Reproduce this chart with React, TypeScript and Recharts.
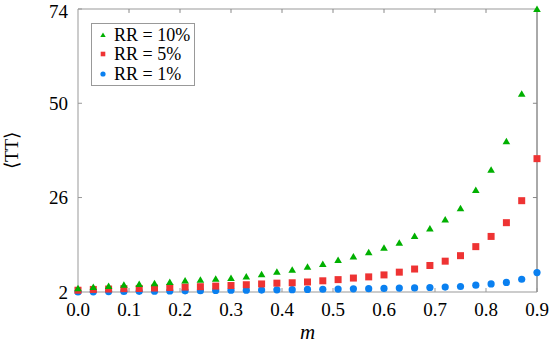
import { ScatterChart, Scatter, XAxis, YAxis, Legend, ReferenceLine } from "recharts";

const M = [
  0, 0.03, 0.06, 0.09, 0.12, 0.15, 0.18, 0.21, 0.24, 0.27, 0.3, 0.33, 0.36, 0.39, 0.42, 0.45,
  0.48, 0.51, 0.54, 0.57, 0.6, 0.63, 0.66, 0.69, 0.72, 0.75, 0.78, 0.81, 0.84, 0.87, 0.9,
];
const RR10 = [
  2.9, 3.2, 3.5, 3.8, 4.0, 4.2, 4.5, 4.9, 5.1, 5.3, 5.5, 5.9, 6.5, 7.1, 7.6, 8.4,
  9.1, 10.1, 11.0, 12.1, 13.2, 14.5, 16.2, 18.1, 20.4, 23.3, 27.9, 33.1, 40.3, 52.4, 74,
];
const RR5 = [
  2.4, 2.6, 2.7, 2.8, 2.85, 2.95, 3.1, 3.2, 3.3, 3.45, 3.6, 3.8, 4.0, 4.2, 4.3, 4.5,
  4.8, 5.1, 5.5, 5.8, 6.3, 7.0, 7.8, 8.7, 9.8, 11.2, 13.5, 16.1, 19.6, 25.2, 35.9,
];
const RR1 = [
  1.95, 2.0, 2.05, 2.1, 2.12, 2.15, 2.2, 2.25, 2.3, 2.35, 2.4, 2.42, 2.45, 2.5, 2.55, 2.6,
  2.65, 2.7, 2.75, 2.8, 2.85, 2.95, 3.0, 3.1, 3.2, 3.35, 3.7, 4.0, 4.4, 5.2, 6.9,
];
const X_TICKS = [0, 0.1, 0.2, 0.3, 0.4, 0.5, 0.6, 0.7, 0.8, 0.9];
const Y_TICKS = [2, 26, 50, 74];
const X_MAX = 0.9;
const Y_MAX = 74;

const GREEN = "#00b000";
const RED = "#ee3333";
const BLUE = "#0a80f0";
const FONT = "Liberation Serif";

const toPoints = (ys: number[]) => M.map((m, i) => ({ m, tt: ys[i] }));

const Triangle = ({ cx, cy }: any) => (
  <polygon points={`${cx},${cy - 3.5} ${cx - 3.8},${cy + 3} ${cx + 3.8},${cy + 3}`} fill={GREEN} />
);
const Square = ({ cx, cy }: any) => <rect x={cx - 3.5} y={cy - 3.5} width={7} height={7} fill={RED} />;
const Dot = ({ cx, cy }: any) => <circle cx={cx} cy={cy} r={3.6} fill={BLUE} />;

const legendItems = [
  { label: "RR = 10%", color: GREEN, shape: "tri" },
  { label: "RR = 5%", color: RED, shape: "sq" },
  { label: "RR = 1%", color: BLUE, shape: "dot" },
];

const LegendBox = () => (
  <div
    style={{
      border: "1px solid #999",
      background: "#fff",
      width: 102,
      padding: "1px 0 1px 0",
      fontFamily: FONT,
      fontSize: 18,
      whiteSpace: "nowrap",
    }}
  >
    {legendItems.map((it) => (
      <div key={it.label} style={{ display: "flex", alignItems: "center", height: 19.5 }}>
        <svg width={22} height={20} style={{ flex: "none" }}>
          {it.shape === "tri" && <polygon points="11,7.5 8.3,12 13.7,12" fill={it.color} />}
          {it.shape === "sq" && <rect x={8.7} y={7.7} width={4.6} height={4.6} fill={it.color} />}
          {it.shape === "dot" && <circle cx={11} cy={10} r={2.6} fill={it.color} />}
        </svg>
        <span style={{ lineHeight: "20px" }}>{it.label}</span>
      </div>
    ))}
  </div>
);

export default function App() {
  return (
    <div style={{ position: "fixed", left: 0, top: 0, width: 549, height: 348, background: "#fff" }}>
      <ScatterChart width={549} height={348} margin={{ top: 9, right: 12, bottom: 0, left: 0 }}>
        <XAxis
          dataKey="m"
          type="number"
          domain={[0, X_MAX]}
          ticks={X_TICKS}
          tickFormatter={(v: number) => v.toFixed(1)}
          height={56}
          tickSize={-4}
          tickMargin={15}
          stroke="#999"
          tick={{ fill: "#000", fontSize: 19, fontFamily: FONT }}
          label={{
            content: ({ viewBox }: any) => (
              <text
                x={viewBox.x + viewBox.width / 2}
                y={viewBox.y + 47}
                textAnchor="middle"
                fontFamily={FONT}
                fontStyle="italic"
                fontSize={21}
              >
                m
              </text>
            ),
          }}
        />
        <YAxis
          dataKey="tt"
          type="number"
          domain={[2, Y_MAX]}
          ticks={Y_TICKS}
          width={78}
          tickSize={-4}
          tickMargin={14}
          stroke="#999"
          tick={{ fill: "#000", fontSize: 19, fontFamily: FONT }}
          label={{
            content: ({ viewBox }: any) => {
              const cy = viewBox.y + viewBox.height / 2;
              return (
                <text
                  x={11}
                  y={cy}
                  transform={`rotate(-90 11 ${cy})`}
                  textAnchor="middle"
                  dominantBaseline="central"
                  fontFamily={FONT}
                  fontSize={19}
                >
                  ⟨TT⟩
                </text>
              );
            },
          }}
        />
        <ReferenceLine y={Y_MAX} stroke="#999" strokeWidth={1} ifOverflow="visible" />
        <ReferenceLine x={X_MAX} stroke="#555" strokeWidth={1} ifOverflow="visible" />
        {X_TICKS.slice(1, -1).map((t) => (
          <ReferenceLine
            key={`tx${t}`}
            ifOverflow="visible"
            segment={[
              { x: t, y: Y_MAX },
              { x: t, y: Y_MAX - 1 },
            ]}
            stroke="#888"
          />
        ))}
        {Y_TICKS.slice(1, -1).map((t) => (
          <ReferenceLine
            key={`ty${t}`}
            ifOverflow="visible"
            segment={[
              { x: X_MAX, y: t },
              { x: X_MAX - 0.008, y: t },
            ]}
            stroke="#888"
          />
        ))}
        <Legend
          layout="vertical"
          align="center"
          verticalAlign="middle"
          content={() => <LegendBox />}
          wrapperStyle={{ left: 91, top: 23, width: 104, height: 62 }}
        />
        <Scatter name="RR = 1%" data={toPoints(RR1)} shape={Dot} isAnimationActive={false} />
        <Scatter name="RR = 5%" data={toPoints(RR5)} shape={Square} isAnimationActive={false} />
        <Scatter name="RR = 10%" data={toPoints(RR10)} shape={Triangle} isAnimationActive={false} />
      </ScatterChart>
    </div>
  );
}
